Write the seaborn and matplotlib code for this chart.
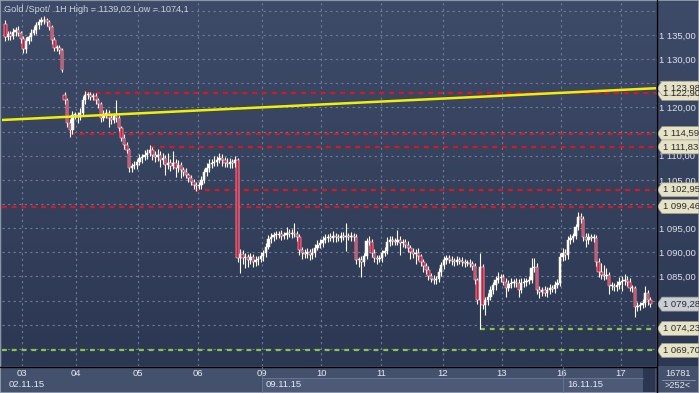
import numpy as np
import pandas as pd
import matplotlib
matplotlib.use("Agg")
import matplotlib.pyplot as plt
import seaborn as sns
from matplotlib.patches import Polygon, Rectangle
from matplotlib.colors import LinearSegmentedColormap
import matplotlib.transforms as mtransforms
from matplotlib.lines import Line2D

# ---------------- data (hourly bars) ----------------
closes = [
    1134.6, 1135.2, 1134.8, 1135.6, 1136.0, 1135.4, 1134.2,
    1132.0, 1133.8, 1134.5,
    1135.4, 1136.0, 1137.0,
    1137.7, 1138.0, 1138.1, 1137.6, 1136.6,
    1134.0, 1132.3,
    1132.3, 1131.9, 1127.8,
    1121.5, 1116.8, 1115.3, 1118.4,
    1118.4, 1118.0, 1118.8,
    1121.5, 1122.6,
    1122.6, 1122.2, 1122.4,
    1121.5, 1120.7,
    1117.8, 1118.6,
    1118.9, 1117.8,
    1117.4, 1118.2,
    1117.8, 1115.7,
    1113.7, 1112.2,
    1111.2, 1107.5,
    1107.9, 1108.1, 1108.7,
    1109.5, 1109.7, 1110.2,
    1110.6, 1111.2, 1110.2, 1109.7,
    1110.2, 1109.1, 1109.5, 1108.1,
    1108.5, 1107.9, 1108.5, 1107.5,
    1108.1, 1107.0, 1106.6, 1106.0,
    1105.4, 1104.6, 1104.0, 1103.8,
    1104.0, 1105.0, 1106.6,
    1107.5, 1108.3, 1108.5,
    1108.7, 1109.1, 1109.5, 1109.1,
    1108.5, 1108.3, 1108.7, 1108.5, 1109.1,
    1088.8,
    1089.6, 1088.8, 1089.0,
    1088.4, 1089.0, 1088.0, 1088.4, 1088.6,
    1089.2, 1089.9, 1091.2,
    1092.7, 1093.2, 1093.6,
    1093.6, 1093.8, 1093.4, 1093.6, 1094.0, 1093.8, 1094.0,
    1093.8, 1093.2,
    1090.5,
    1089.9, 1089.7, 1090.1, 1089.4, 1089.9,
    1091.0, 1091.6, 1092.0, 1092.6,
    1093.0, 1093.2, 1093.0, 1093.4, 1093.2, 1093.0, 1093.4, 1093.2, 1093.4, 1093.2, 1093.4, 1093.2,
    1088.4,
    1088.4, 1088.0,
    1089.2, 1092.4,
    1092.2, 1089.9,
    1088.8, 1088.6, 1088.8,
    1089.9, 1090.3,
    1092.2, 1092.6,
    1092.4, 1092.2, 1092.6, 1092.0, 1092.2,
    1091.6, 1091.0,
    1090.1, 1089.7, 1089.9, 1089.2, 1088.0,
    1087.2, 1086.3, 1085.1,
    1084.5, 1084.3, 1084.5,
    1085.9, 1087.4, 1088.4, 1088.8,
    1088.4, 1088.2, 1088.0, 1088.4, 1088.2,
    1088.0, 1087.8, 1087.8, 1087.6,
    1087.2,
    1084.3,
    1080.1,
    1087.0,
    1079.1,
    1080.1, 1080.8,
    1082.2, 1083.2,
    1084.3, 1084.7, 1084.9,
    1083.9, 1082.6,
    1083.5, 1083.7, 1083.9,
    1083.7, 1082.2, 1083.7,
    1083.9, 1084.1, 1084.3,
    1086.8, 1087.0,
    1082.2, 1081.8, 1082.2,
    1081.6, 1082.2, 1082.6,
    1082.4, 1083.2,
    1083.7,
    1089.0,
    1089.9, 1089.4,
    1092.6, 1093.0,
    1093.4,
    1095.3,
    1097.3,
    1096.9,
    1093.2,
    1092.6, 1093.2,
    1093.0, 1093.0,
    1088.0,
    1085.9,
    1085.3, 1085.1, 1085.3,
    1083.0,
    1083.0, 1082.8, 1083.2,
    1083.9, 1084.1, 1084.3, 1083.9,
    1082.6,
    1082.6,
    1078.7,
    1078.9, 1079.1,
    1079.5,
    1081.6,
    1080.1,
    1079.3,
]

upper_wick = [
    0.8, 0.6, 0.7, 0.9, 0.6, 0.8, 0.5,
    0.5, 0.7, 0.6,
    0.8, 0.9, 0.7,
    0.6, 0.8, 0.9, 0.5, 0.6,
    0.5, 0.6,
    0.7, 0.6, 0.4,
    0.6, 0.5, 0.8, 0.9,
    0.7, 0.6, 1.0,
    0.8, 0.9,
    0.6, 0.7, 0.5,
    0.6, 0.4,
    0.5, 0.8,
    0.7, 0.6,
    0.9, 0.7,
    3.3, 0.6,
    0.5, 0.7,
    0.6, 0.5,
    0.7, 0.9, 0.6,
    0.8, 0.7, 0.9,
    0.8, 1.0, 0.6, 0.7,
    1.2, 0.8, 1.0, 0.7,
    2.0, 0.8, 2.5, 0.9,
    1.0, 0.7, 0.6, 0.8,
    0.5, 0.7, 0.6, 0.5,
    0.6, 0.8, 0.7,
    0.9, 1.0, 0.8,
    1.2, 0.8, 1.0, 0.9,
    0.7, 1.1, 0.8, 0.6, 0.9,
    0.5,
    1.0, 0.8, 0.9,
    0.7, 0.8, 0.6, 0.9, 0.7,
    0.8, 0.6, 0.7,
    0.9, 0.8, 0.7,
    0.9, 0.6, 0.8, 0.7, 1.2, 0.8, 0.9,
    2.1, 0.6,
    0.5,
    0.6, 0.8, 0.7, 0.6, 0.9,
    0.8, 0.9, 0.7, 0.8,
    0.9, 0.7, 0.8, 1.0, 0.7, 0.6, 0.8, 0.9, 2.6, 0.7, 0.8, 0.6,
    0.5,
    0.6, 0.8,
    0.7, 0.6,
    0.9, 0.5,
    0.8, 0.6, 0.7,
    0.6, 0.8,
    0.9, 0.7,
    0.8, 0.6, 2.0, 0.7, 0.6,
    0.5, 0.7,
    0.6, 0.8, 0.7, 0.9, 0.5,
    0.7, 0.6, 0.8,
    0.7, 0.9, 0.6,
    0.8, 0.7, 0.9, 0.6,
    0.7, 0.8, 0.6, 0.9, 0.7,
    0.8, 0.6, 0.7, 0.9,
    0.6,
    0.5,
    0.4,
    2.9,
    0.6,
    0.7, 0.8,
    0.9, 0.7,
    0.8, 1.2, 0.7,
    0.6, 0.8,
    0.7, 0.9, 0.6,
    0.8, 0.7, 0.9,
    0.8, 0.6, 0.7,
    2.0, 1.8,
    0.7, 0.8, 0.6,
    0.9, 0.7, 0.8,
    0.6, 0.8,
    0.7,
    0.8,
    1.0, 0.7,
    0.8, 0.9,
    0.7,
    0.6,
    1.1,
    0.8,
    0.6,
    0.8, 0.9,
    0.7, 0.8,
    0.6,
    0.9,
    1.8, 2.0, 1.4,
    0.6,
    0.8, 0.7, 0.9,
    1.0, 0.9, 1.2, 0.8,
    0.7,
    0.6,
    0.5,
    0.8, 0.7,
    0.9,
    1.4,
    0.7,
    0.6,
]

lower_wick = [
    0.9, 0.7, 0.8, 0.6, 0.9, 0.7, 0.8,
    0.7, 0.8, 0.6,
    0.7, 0.5, 0.8,
    0.7, 0.6, 0.8, 0.7, 0.6,
    0.8, 0.7,
    0.6, 0.8, 0.5,
    0.7, 0.8, 1.5, 0.7,
    0.8, 1.2, 0.7,
    0.6, 0.7,
    0.8, 0.6, 0.7,
    0.7, 0.9,
    0.8, 0.6,
    0.7, 1.8,
    0.9, 0.7,
    0.8, 0.6,
    0.7, 0.9,
    0.6, 0.8,
    0.9, 0.7, 0.8,
    0.7, 0.9, 0.6,
    0.8, 0.7, 1.0, 0.9,
    0.8, 1.5, 0.9, 2.0,
    0.8, 1.0, 0.7, 1.8,
    0.9, 1.6, 0.8, 0.7,
    0.9, 0.7, 0.8, 1.0,
    0.7, 0.8, 0.6,
    0.7, 0.8, 0.9,
    0.6, 0.8, 0.7, 1.2,
    0.9, 0.7, 0.8, 1.0, 0.8,
    0.8,
    3.0, 1.2, 2.0,
    1.4, 0.9, 1.1, 0.8, 1.0,
    0.7, 0.9, 0.8,
    0.6, 0.7, 0.9,
    0.8, 0.7, 0.9, 0.6, 0.8, 0.7, 0.9,
    0.7, 0.8,
    1.0,
    1.2, 0.8, 0.9, 1.0, 0.7,
    0.8, 0.6, 0.7, 0.9,
    0.7, 0.8, 0.6, 0.9, 1.0, 0.7, 0.8, 0.6, 3.0, 0.7, 0.8, 0.9,
    0.8,
    1.5, 3.2,
    0.8, 0.6,
    0.7, 0.8,
    0.9, 1.0, 0.7,
    0.8, 0.6,
    0.7, 0.9,
    0.8, 0.7, 0.6, 2.5, 0.8,
    0.7, 0.9,
    1.5, 0.8, 2.2, 0.7, 0.9,
    1.2, 0.8, 0.9,
    0.7, 0.8, 0.9,
    0.6, 0.7, 0.8, 0.9,
    0.7, 0.8, 0.9, 0.6, 0.7,
    0.8, 0.9, 0.7, 0.6,
    0.8,
    0.9,
    0.8,
    6.0,
    0.8,
    2.0, 0.9,
    0.7, 0.8,
    0.9, 0.7, 0.8,
    0.6, 1.8,
    0.7, 0.8, 0.9,
    0.8, 1.5, 0.7,
    0.9, 0.8, 0.7,
    0.6, 0.8,
    0.9, 1.2, 0.8,
    0.7, 0.9, 0.8,
    0.7, 0.8,
    0.6,
    0.7,
    0.8, 0.9,
    0.7, 0.8,
    0.9,
    0.7,
    0.6,
    0.8,
    0.9,
    1.5, 0.8,
    0.7, 0.9,
    0.8,
    1.0,
    0.9, 0.8, 0.7,
    1.6,
    0.8, 0.9, 0.7,
    0.8, 2.0, 0.9, 0.8,
    0.7,
    0.9,
    2.0,
    0.9, 0.8,
    0.7,
    0.8,
    0.9,
    0.7,
]

first_open = 1137.2
gap_open_bar = 23
gap_open_price = 1122.6

day_labels = ["03", "04", "05", "06", "09", "10", "11", "12", "13", "16", "17"]
day_positions = [6.5, 27.5, 51.5, 74.5, 99.5, 122.5, 145.5, 169.5, 192.5, 215.5, 238.5]
date_labels = ["02.11.15", "09.11.15", "16.11.15"]

price_grid = [1070, 1075, 1080, 1085, 1090, 1095, 1100, 1105, 1110, 1115, 1120, 1125, 1130, 1135, 1140]
price_labels = [1085, 1090, 1095, 1105, 1110, 1120, 1125, 1130, 1135]

trend_x = [-1.3, 252.2]
trend_y = [1117.4, 1123.98]

red_levels = [1122.9, 1114.59, 1111.83, 1102.95, 1099.46]
red_starts = [31.3, 25.1, 56.1, 73.5, -1.3]
green_levels = [1074.23, 1069.70]
green_starts = [184.0, -1.3]
last_price = 1079.28

title_text = "Gold /Spot/  1H High = 1139,02 Low = 1074,1"
bars_count_text = "16781"
bars_visible_text = ">252<"

# ---------------- build OHLC frame ----------------
n = min(len(closes), len(upper_wick), len(lower_wick))
c = np.array(closes[:n])
o = np.concatenate([[first_open], c[:-1]])
if gap_open_bar < n:
    o[gap_open_bar] = gap_open_price
hi = np.maximum(o, c) + np.array(upper_wick[:n])
lo = np.minimum(o, c) - np.array(lower_wick[:n])
df = pd.DataFrame({"bar": np.arange(n), "open": o, "high": hi, "low": lo, "close": c})

# ---------------- style ----------------
sns.set_style("dark")
plt.rcParams["font.family"] = ["Liberation Sans", "DejaVu Sans"]

W, H = 699, 393
def fx(px):
    return px / W
def fy(py):
    return 1 - py / H

fig = plt.figure(figsize=(W / 100, H / 100), dpi=100, facecolor="#44516d")

top_col, bot_col = "#3e4b68", "#2c3853"
cmap = LinearSegmentedColormap.from_list("bg", [top_col, bot_col])
grad = np.linspace(0, 1, 256).reshape(-1, 1)

# right price panel
rp = fig.add_axes([fx(657), fy(366), (W - 657) / W, 366 / H])
rp.imshow(grad, extent=(0, 1, 0, 1), aspect="auto", cmap=cmap, origin="upper")
rp.set_axis_off()
rp.set_zorder(0)

# main axes
X0, X1 = -1.28, 252.2
Y0, Y1 = 1066.47, 1141.83
ax = fig.add_axes([fx(2), fy(366), 654 / W, 364 / H])
ax.set_zorder(1)
ax.imshow(grad, extent=(X0, X1, Y0, Y1), aspect="auto", cmap=cmap, origin="upper", zorder=0)
ax.patch.set_visible(False)

# grid
grid_kw = dict(color="#6f7c96", lw=0.8, ls=(0, (2, 3)), zorder=1)
for g in price_grid:
    ax.axhline(g, **grid_kw)
for d in day_positions:
    ax.axvline(d, **grid_kw)

# red / green dashed levels
for lvl, st in zip(red_levels, red_starts):
    ax.hlines(lvl, st, X1, color="#e0141e", lw=1.6, linestyles=(0, (2.2, 2.2)), zorder=2)
for lvl, st in zip(green_levels, green_starts):
    ax.hlines(lvl, st, X1, color="#8cc63e", lw=1.6, linestyles=(0, (2.2, 2.2)), zorder=2)

# candles
up = df["close"] >= df["open"]
ax.vlines(df["bar"], df["low"], df["high"], color="white", lw=0.8, zorder=3)
body_bottom = np.minimum(df["open"], df["close"])
body_h = np.maximum(np.abs(df["close"] - df["open"]), 0.2)
ax.bar(df["bar"][up], body_h[up], bottom=body_bottom[up], width=0.9,
       color="white", edgecolor="white", linewidth=0.35, zorder=4)
ax.bar(df["bar"][~up], body_h[~up], bottom=body_bottom[~up], width=0.95,
       color="#ec1030", edgecolor="white", linewidth=0.35, zorder=4)

# trend line
sns.lineplot(x=trend_x, y=trend_y, ax=ax, color="#f2f000", lw=1.8, zorder=5)

ax.set_xlim(X0, X1)
ax.set_ylim(Y0, Y1)
for s in ax.spines.values():
    s.set_visible(False)
ax.set_xticks([])
ax.yaxis.tick_right()
ax.set_yticks(price_labels)
ax.set_yticklabels([f"1 {int(v) - 1000:03d},00" for v in price_labels])
ax.tick_params(axis="y", length=0, pad=2.5, labelsize=6.8, labelcolor="#dde2ea")
ax.set_xlabel("")
ax.set_ylabel("")

# callouts
bt = mtransforms.blended_transform_factory(fig.transFigure, ax.transData)
half = 7 / 4.83
def callout(price, face, txt_color="#2b2b2b"):
    pts = [(fx(657), price), (fx(662), price + half), (fx(699), price + half),
           (fx(699), price - half), (fx(662), price - half)]
    poly = Polygon(pts, closed=True, transform=bt, facecolor=face,
                   edgecolor="#9a9a8a", lw=0.5, clip_on=False, zorder=10)
    ax.add_patch(poly)
    lbl = f"1 {price - 1000:06.2f}".replace(".", ",")
    ax.text(fx(663), price, lbl, transform=bt, fontsize=6.8, color=txt_color,
            va="center", ha="left", clip_on=False, zorder=11)

callout(1122.9, "#e6e2c6")
callout(trend_y[1], "#e6e2c6")
for lvl in red_levels[1:]:
    callout(lvl, "#e6e2c6")
callout(last_price, "#c9cdd4")
for lvl in green_levels:
    callout(lvl, "#e6e2c6")

# title
fig.text(fx(4), fy(9), title_text, fontsize=6.6, color="#c9d1dd", va="center", ha="left")

# separator lines
fig.add_artist(Line2D([fx(656.5), fx(656.5)], [0, 1], color="black", lw=1.0))
fig.add_artist(Line2D([0, fx(656.5)], [fy(366.5), fy(366.5)], color="black", lw=1.0))

# bottom band boxes
fig.add_artist(Rectangle((fx(262), fy(392)), (643 - 262) / W, 14 / H,
                         transform=fig.transFigure, facecolor="#4c5977", edgecolor="none"))
fig.add_artist(Line2D([fx(262), fx(643)], [fy(378), fy(378)], color="#6c7893", lw=0.6))
for xp in (262, 563):
    fig.add_artist(Line2D([fx(xp), fx(xp)], [fy(392), fy(367)], color="#6c7893", lw=0.6))
fig.add_artist(Rectangle((fx(643), fy(392)), 12 / W, 25 / H,
                         transform=fig.transFigure, facecolor="#2b3650", edgecolor="none"))

# day labels
bx = mtransforms.blended_transform_factory(ax.transData, fig.transFigure)
for lab, pos in zip(day_labels, day_positions):
    ax.text(pos, fy(373), lab, transform=bx, fontsize=6.8, color="#e6eaf0",
            ha="center", va="center", clip_on=False)
for lab, xp in zip(date_labels, (9, 266, 567)):
    fig.text(fx(xp), fy(384.5), lab, fontsize=6.8, color="#e6eaf0", ha="left", va="center")

# bars info
fig.text(fx(678), fy(373), bars_count_text, fontsize=6.6, color="#e6eaf0", ha="center", va="center")
fig.add_artist(Line2D([fx(662), fx(695)], [fy(379.5), fy(379.5)], color="#8f99ad", lw=0.6))
fig.text(fx(678), fy(386), bars_visible_text, fontsize=6.6, color="#e6eaf0", ha="center", va="center")

# outer frame
fig.add_artist(Rectangle((0, 0), 1, 1, transform=fig.transFigure, facecolor="none",
                         edgecolor="#9aa3b4", lw=1.2))

fig.savefig("out.png", dpi=100, facecolor=fig.get_facecolor())
